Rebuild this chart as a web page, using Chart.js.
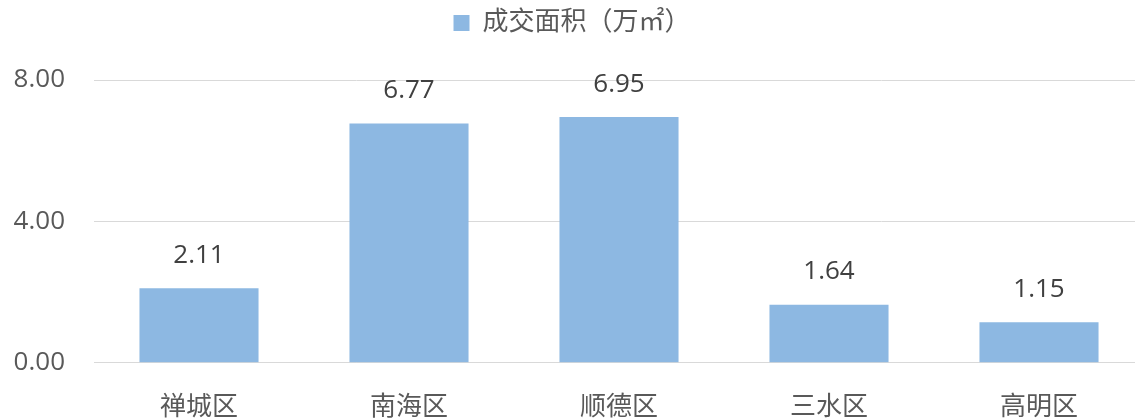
<!DOCTYPE html>
<html>
<head>
<meta charset="utf-8">
<script src="https://cdn.jsdelivr.net/npm/chart.js@4"></script>
<style>
  html, body { margin: 0; padding: 0; background: #fff; overflow: hidden; }
  #wrap { width: 1144px; height: 444px; }
</style>
</head>
<body>
<div id="wrap"><canvas id="chart"></canvas></div>
<script>
const districts = ["禅城区", "南海区", "顺德区", "三水区", "高明区"];
const dealArea = [2.11, 6.77, 6.95, 1.64, 1.15];
const yTicks = [0, 4, 8];
const seriesLabel = "成交面积（万㎡）";

const FONT = "'Open Sans', 'Noto Sans CJK SC', sans-serif";

// value labels above each bar
const valueLabels = {
  id: "valueLabels",
  afterDatasetsDraw(chart) {
    const ctx = chart.ctx;
    const meta = chart.getDatasetMeta(0);
    ctx.save();
    ctx.font = "26px " + FONT;
    ctx.fillStyle = "#404040";
    ctx.textAlign = "center";
    ctx.textBaseline = "bottom";
    meta.data.forEach((bar, i) => {
      ctx.fillText(dealArea[i].toFixed(2), bar.x, bar.y - 20);
    });
    ctx.restore();
  }
};

// extra room under the legend
const legendGap = {
  id: "legendGap",
  beforeInit(chart) {
    const fit = chart.legend.fit;
    chart.legend.fit = function () {
      fit.bind(chart.legend)();
      this.height += 34;
    };
  }
};

new Chart(document.getElementById("chart"), {
  type: "bar",
  data: {
    labels: districts,
    datasets: [{
      label: seriesLabel,
      data: dealArea,
      backgroundColor: "#8db8e2",
      barPercentage: 0.567,
      categoryPercentage: 1.0
    }]
  },
  options: {
    responsive: true,
    maintainAspectRatio: false,
    animation: false,
    layout: { padding: 0 },
    plugins: {
      legend: {
        position: "top",
        labels: {
          boxWidth: 16,
          boxHeight: 16,
          padding: 10,
          color: "#595959",
          font: { family: FONT, size: 26 }
        }
      },
      tooltip: { enabled: false }
    },
    scales: {
      x: {
        grid: { display: false },
        border: { color: "#d9d9d9", width: 1 },
        ticks: { color: "#595959", padding: 21, font: { family: FONT, size: 26 } }
      },
      y: {
        min: 0,
        max: 8,
        afterBuildTicks(axis) { axis.ticks = yTicks.map(v => ({ value: v })); },
        afterFit(axis) { axis.width = 94; },
        grid: { color: "#d9d9d9", drawTicks: false },
        border: { display: false },
        ticks: {
          color: "#595959",
          padding: 29,
          font: { family: FONT, size: 26 },
          callback: v => v.toFixed(2)
        }
      }
    }
  },
  plugins: [valueLabels, legendGap]
});
</script>
</body>
</html>
